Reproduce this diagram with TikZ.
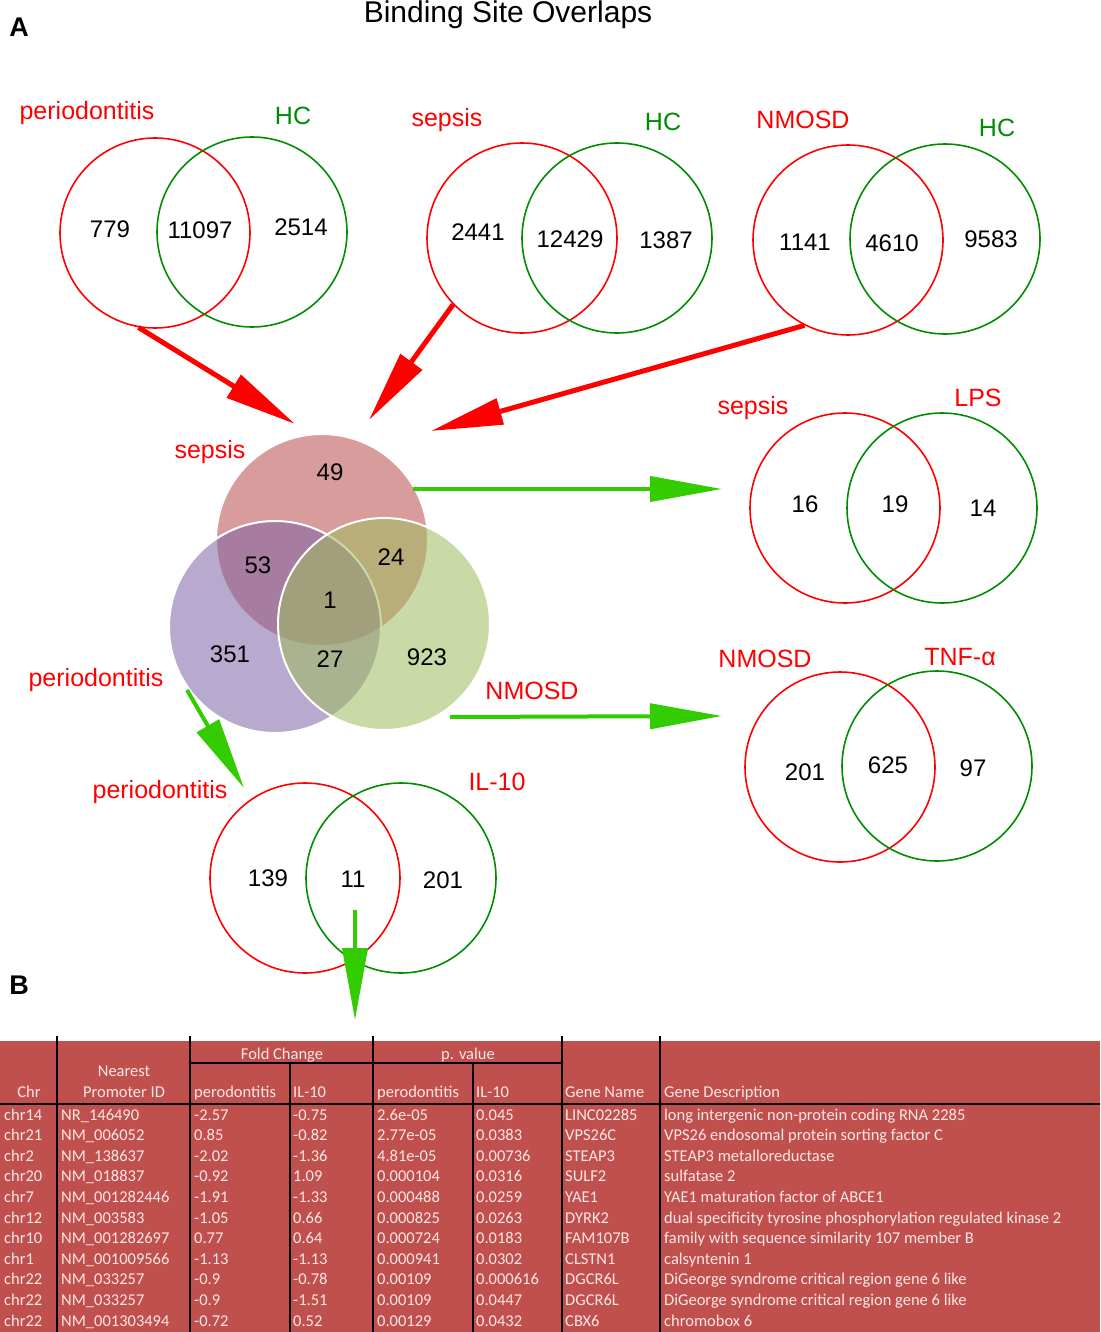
\documentclass[tikz,border=0pt]{standalone}
\usepackage{fontspec}
\setmainfont{Liberation Sans}
\newfontfamily\tablefont{Carlito}
\usetikzlibrary{arrows.meta}

\definecolor{setred}{RGB}{255,0,0}
\definecolor{setgreen}{RGB}{0,140,0}
\definecolor{arrowgreen}{RGB}{51,204,0}
\definecolor{tablered}{RGB}{192,80,77}
\definecolor{tabletext}{RGB}{250,230,230}
\definecolor{sepsisfill}{RGB}{185,75,75}
\definecolor{periofill}{RGB}{125,101,165}
\definecolor{nmosdfill}{RGB}{159,187,95}

\tikzset{
  redset/.style={draw=setred, line width=1.6pt, shape=circle, minimum size=190pt, inner sep=0pt},
  greenset/.style={draw=setgreen, line width=1.6pt, shape=circle, minimum size=190pt, inner sep=0pt},
  triset/.style={shape=circle, minimum size=212pt, inner sep=0pt, fill opacity=.55, draw=white, line width=2pt},
  count/.style={font=\fontsize{24}{28}\selectfont},
  redlabel/.style={text=setred, font=\fontsize{25}{30}\selectfont},
  greenlabel/.style={text=setgreen, font=\fontsize{25}{30}\selectfont},
  panel/.style={font=\bfseries\fontsize{27}{32}\selectfont},
  redarrow/.style={draw=setred, line width=5pt, -{Triangle[length=72pt,width=26pt]}},
  greenarrow/.style={draw=arrowgreen, line width=4pt, -{Triangle[length=72pt,width=25pt]}},
  tableline/.style={draw=black, line width=2.2pt},
  cell/.style={anchor=base west, inner sep=0pt, text=tabletext, font=\tablefont\fontsize{16.5}{20}\selectfont},
  headcell/.style={cell, anchor=base}
}

\begin{document}
\begin{tikzpicture}[x=1pt,y=-1pt]
\useasboundingbox (0,0) rectangle (1100,1332);

\node (title) [anchor=base, font=\fontsize{30}{36}\selectfont] at (508,23) {Binding Site Overlaps};
\node (panelA) [panel] at (19,27) {A};
\node (panelB) [panel] at (19,985) {B};

% top row: each disease vs HC
\node (perioA) [redset] at (155,233) {};
\node (hcA) [greenset] at (252,232) {};
\node (perioAlab) [redlabel] at (87,113) {periodontitis};
\node (hcAlab) [greenlabel] at (293,116) {HC};
\node [count] at (110,229) {779};
\node [count] at (200,230) {11097};
\node [count] at (301,227) {2514};

\node (sepsisA) [redset] at (522,238) {};
\node (hcB) [greenset] at (617,238) {};
\node (sepsisAlab) [redlabel] at (447,120) {sepsis};
\node (hcBlab) [greenlabel] at (663,122) {HC};
\node [count] at (478,232) {2441};
\node [count] at (570,239) {12429};
\node [count] at (666,240) {1387};

\node (nmosdA) [redset] at (848,240) {};
\node (hcC) [greenset] at (945,239) {};
\node (nmosdAlab) [redlabel] at (803,120) {NMOSD};
\node (hcClab) [greenlabel] at (997,128) {HC};
\node [count] at (805,242) {1141};
\node [count] at (892,243) {4610};
\node [count] at (991,239) {9583};

% three way overlap
\node (triSepsis) [triset, fill=sepsisfill] at (322,540) {};
\node (triPerio) [triset, fill=periofill] at (275,627) {};
\node (triNmosd) [triset, fill=nmosdfill] at (384,624) {};
\node (triSepsislab) [redlabel] at (210,452) {sepsis};
\node (triPeriolab) [redlabel] at (96,680) {periodontitis};
\node (triNmosdlab) [redlabel] at (532,691) {NMOSD};
\node [count] at (330,472) {49};
\node [count] at (258,565) {53};
\node [count] at (391,557) {24};
\node [count] at (330,600) {1};
\node [count] at (230,654) {351};
\node [count] at (330,659) {27};
\node [count] at (427,657) {923};

\coordinate (inA) at (295,424);
\coordinate (inB) at (369,420);
\coordinate (inC) at (431,431);
\draw [redarrow] (perioA.-100) -- (inA);
\draw [redarrow] (sepsisA.-136) -- (inB);
\draw [redarrow] (nmosdA.-117) -- (inC);

% follow up sets
\node (sepsisB) [redset] at (845,508) {};
\node (lps) [greenset] at (942,508) {};
\node (sepsisBlab) [redlabel] at (753,408) {sepsis};
\node (lpslab) [redlabel] at (978,398) {LPS};
\node [count] at (805,504) {16};
\node [count] at (895,504) {19};
\node [count] at (983,508) {14};

\node (nmosdB) [redset] at (840,767) {};
\node (tnf) [greenset] at (937,766) {};
\node (nmosdBlab) [redlabel] at (765,659) {NMOSD};
\node (tnflab) [redlabel] at (960,657) {TNF-α};
\node [count] at (805,772) {201};
\node [count] at (888,765) {625};
\node [count] at (973,768) {97};

\node (perioB) [redset] at (305,878) {};
\node (il) [greenset] at (401,878) {};
\node (perioBlab) [redlabel] at (160,792) {periodontitis};
\node (illab) [redlabel] at (497,782) {IL-10};
\node [count] at (268,878) {139};
\node [count] at (353,879) {11};
\node [count] at (443,880) {201};

\coordinate (fromSepsis) at (413,489);
\coordinate (toLps) at (722,489);
\coordinate (fromNmosd) at (450,717);
\coordinate (toTnf) at (722,716);
\coordinate (fromPerio) at (187,690);
\coordinate (toIl) at (244,788);
\coordinate (fromIl) at (355,910);
\coordinate (toTable) at (355,1020);
\draw [greenarrow] (fromSepsis) -- (toLps);
\draw [greenarrow] (fromNmosd) -- (toTnf);
\draw [greenarrow] (fromPerio) -- (toIl);
\draw [greenarrow] (fromIl) -- (toTable);

% table
\fill [tablered] (0,1041) rectangle (1100,1332);
\draw [tableline] (57,1036) -- (57,1332);
\draw [tableline] (190,1036) -- (190,1332);
\draw [tableline] (373,1036) -- (373,1332);
\draw [tableline] (562,1036) -- (562,1332);
\draw [tableline] (660,1036) -- (660,1332);
\draw [tableline] (290,1063) -- (290,1332);
\draw [tableline] (473,1063) -- (473,1332);
\draw [tableline] (190,1063) -- (562,1063);
\draw [tableline] (0,1104) -- (1100,1104);

\node (hChr) [headcell] at (29,1097) {Chr};
\node (hNear) [headcell] at (124,1076) {Nearest};
\node (hProm) [headcell] at (124,1097) {Promoter ID};
\node (hFold) [headcell] at (282,1059) {Fold Change};
\node (hPval) [headcell] at (468,1059) {p. value};
\node (hFoldA) [cell] at (194,1097) {perodontitis};
\node (hFoldB) [cell] at (293,1097) {IL-10};
\node (hPvalA) [cell] at (377,1097) {perodontitis};
\node (hPvalB) [cell] at (476,1097) {IL-10};
\node (hGene) [cell] at (565,1097) {Gene Name};
\node (hDesc) [cell] at (664,1097) {Gene Description};

\foreach \chrom/\promoter/\fcperio/\fcil/\pperio/\pil/\gene/\desc [count=\r from 0] in {
  chr14/NR\_146490/-2.57/-0.75/2.6e-05/0.045/LINC02285/long intergenic non-protein coding RNA 2285,
  chr21/NM\_006052/0.85/-0.82/2.77e-05/0.0383/VPS26C/VPS26 endosomal protein sorting factor C,
  chr2/NM\_138637/-2.02/-1.36/4.81e-05/0.00736/STEAP3/STEAP3 metalloreductase,
  chr20/NM\_018837/-0.92/1.09/0.000104/0.0316/SULF2/sulfatase 2,
  chr7/NM\_001282446/-1.91/-1.33/0.000488/0.0259/YAE1/YAE1 maturation factor of ABCE1,
  chr12/NM\_003583/-1.05/0.66/0.000825/0.0263/DYRK2/dual specificity tyrosine phosphorylation regulated kinase 2,
  chr10/NM\_001282697/0.77/0.64/0.000724/0.0183/FAM107B/family with sequence similarity 107 member B,
  chr1/NM\_001009566/-1.13/-1.13/0.000941/0.0302/CLSTN1/calsyntenin 1,
  chr22/NM\_033257/-0.9/-0.78/0.00109/0.000616/DGCR6L/DiGeorge syndrome critical region gene 6 like,
  chr22/NM\_033257/-0.9/-1.51/0.00109/0.0447/DGCR6L/DiGeorge syndrome critical region gene 6 like,
  chr22/NM\_001303494/-0.72/0.52/0.00129/0.0432/CBX6/chromobox 6}
{
  \pgfmathsetmacro\rowy{1120+20.6*\r}
  \node (chr\r) [cell] at (4,\rowy) {\chrom};
  \node (prom\r) [cell] at (61,\rowy) {\promoter};
  \node (fcA\r) [cell] at (194,\rowy) {\fcperio};
  \node (fcB\r) [cell] at (293,\rowy) {\fcil};
  \node (pA\r) [cell] at (377,\rowy) {\pperio};
  \node (pB\r) [cell] at (476,\rowy) {\pil};
  \node (gene\r) [cell] at (565,\rowy) {\gene};
  \node (desc\r) [cell] at (664,\rowy) {\desc};
}
\end{tikzpicture}
\end{document}
